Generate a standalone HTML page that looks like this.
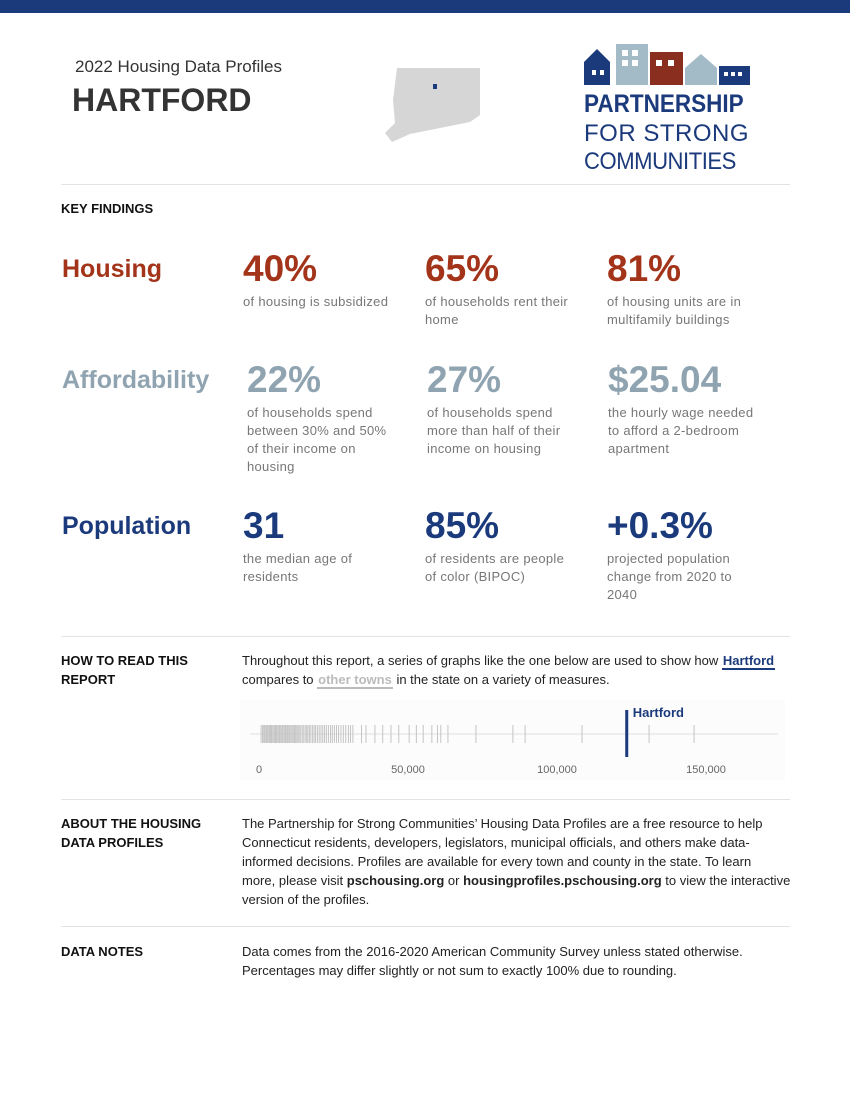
<!DOCTYPE html>
<html><head><meta charset="utf-8">
<style>
body{margin:0;width:850px;height:1100px;background:#fff;font-family:"Liberation Sans","DejaVu Sans",sans-serif;position:relative;overflow:hidden;color:#222}
.a{position:absolute}
.hr{position:absolute;left:61px;width:729px;height:1px;background:#e3e3e3}
.big{position:absolute;font-weight:bold;font-size:37px;line-height:40px}
.desc{position:absolute;font-size:13px;line-height:18px;color:#777;white-space:nowrap;letter-spacing:0.3px}
.cat{position:absolute;font-weight:bold;font-size:25px}
.red{color:#a3341a}.gb{color:#8fa4b0}.nv{color:#1b3a7c}
.lab{position:absolute;left:61px;font-weight:bold;font-size:13px;line-height:19px;color:#111}
.body{position:absolute;left:242px;font-size:13px;line-height:19px;color:#222;white-space:nowrap}
</style></head><body>
<div class="a" style="left:0;top:0;width:850px;height:13px;background:#1b3a7c"></div>
<div class="a" style="left:75px;top:57px;font-size:17px;color:#333">2022 Housing Data Profiles</div>
<div class="a" style="left:72px;top:82px;font-size:32px;font-weight:bold;color:#333">HARTFORD</div>
<svg class="a" style="left:380px;top:60px" width="110" height="85">
<polygon points="17,8 100,8 100,55 90,62 60,68 30,74 12,82 5,73 15,63 13,40" fill="#d6d6d6"/>
<rect x="53" y="24" width="4" height="5" fill="#1b3a7c"/>
</svg>
<svg class="a" style="left:584px;top:42px" width="170" height="45">
<polygon points="0,20 13,7 26,20 26,43 0,43" fill="#1b3a7c"/>
<rect x="8" y="28" width="4" height="5" fill="#fff"/><rect x="16" y="28" width="4" height="5" fill="#fff"/>
<rect x="32" y="2" width="32" height="41" fill="#a3bac7"/>
<rect x="38" y="8" width="6" height="6" fill="#fff"/><rect x="48" y="8" width="6" height="6" fill="#fff"/>
<rect x="38" y="18" width="6" height="6" fill="#fff"/><rect x="48" y="18" width="6" height="6" fill="#fff"/>
<rect x="66" y="10" width="33" height="33" fill="#8a2e20"/>
<rect x="72" y="18" width="6" height="6" fill="#fff"/><rect x="84" y="18" width="6" height="6" fill="#fff"/>
<polygon points="101,26 117,12 133,26 133,43 101,43" fill="#a3bac7"/>
<rect x="135" y="24" width="31" height="19" fill="#1b3a7c"/>
<rect x="140" y="30" width="4" height="4" fill="#fff"/><rect x="147" y="30" width="4" height="4" fill="#fff"/><rect x="154" y="30" width="4" height="4" fill="#fff"/>
</svg>
<div class="a" style="left:584px;top:90px;font-size:25px;font-weight:bold;color:#1b3a7c;transform:scaleX(0.9);transform-origin:left">PARTNERSHIP</div>
<div class="a" style="left:584px;top:120px;font-size:24px;color:#1b3a7c;letter-spacing:0.5px">FOR STRONG</div>
<div class="a" style="left:584px;top:148px;font-size:24px;color:#1b3a7c;letter-spacing:-0.5px;transform:scaleX(0.92);transform-origin:left">COMMUNITIES</div>
<div class="hr" style="top:184px"></div>
<div class="lab" style="top:199px">KEY FINDINGS</div>

<div class="cat red" style="left:62px;top:255px">Housing</div>
<div class="big red" style="left:243px;top:249px">40%</div>
<div class="desc" style="left:243px;top:293px">of housing is subsidized</div>
<div class="big red" style="left:425px;top:249px">65%</div>
<div class="desc" style="left:425px;top:293px">of households rent their<br>home</div>
<div class="big red" style="left:607px;top:249px">81%</div>
<div class="desc" style="left:607px;top:293px">of housing units are in<br>multifamily buildings</div>

<div class="cat gb" style="left:62px;top:366px">Affordability</div>
<div class="big gb" style="left:247px;top:360px">22%</div>
<div class="desc" style="left:247px;top:404px">of households spend<br>between 30% and 50%<br>of their income on<br>housing</div>
<div class="big gb" style="left:427px;top:360px">27%</div>
<div class="desc" style="left:427px;top:404px">of households spend<br>more than half of their<br>income on housing</div>
<div class="big gb" style="left:608px;top:360px">$25.04</div>
<div class="desc" style="left:608px;top:404px">the hourly wage needed<br>to afford a 2-bedroom<br>apartment</div>

<div class="cat nv" style="left:62px;top:512px">Population</div>
<div class="big nv" style="left:243px;top:506px">31</div>
<div class="desc" style="left:243px;top:550px">the median age of<br>residents</div>
<div class="big nv" style="left:425px;top:506px">85%</div>
<div class="desc" style="left:425px;top:550px">of residents are people<br>of color (BIPOC)</div>
<div class="big nv" style="left:607px;top:506px">+0.3%</div>
<div class="desc" style="left:607px;top:550px">projected population<br>change from 2020 to<br>2040</div>

<div class="hr" style="top:636px"></div>
<div class="lab" style="top:651px">HOW TO READ THIS<br>REPORT</div>
<div class="body" style="top:651px">Throughout this report, a series of graphs like the one below are used to show how <b style="color:#1b3a7c;border-bottom:2px solid #1b3a7c;padding:0 1px">Hartford</b><br>compares to <b style="color:#bbb;border-bottom:2px solid #bbb;padding:0 1px">other towns</b> in the state on a variety of measures.</div>

<svg class="a" id="strip" style="left:240px;top:700px" width="545" height="80">
<rect x="0" y="0" width="545" height="80" fill="#fcfcfc"/>
<line x1="10" y1="34" x2="538" y2="34" stroke="#e0e0e0" stroke-width="1"/>
</svg>

<div class="hr" style="top:799px"></div>
<div class="lab" style="top:814px">ABOUT THE HOUSING<br>DATA PROFILES</div>
<div class="body" style="top:814px">The Partnership for Strong Communities’ Housing Data Profiles are a free resource to help<br>Connecticut residents, developers, legislators, municipal officials, and others make data-<br>informed decisions. Profiles are available for every town and county in the state. To learn<br>more, please visit <b>pschousing.org</b> or <b>housingprofiles.pschousing.org</b> to view the interactive<br>version of the profiles.</div>
<div class="hr" style="top:926px"></div>
<div class="lab" style="top:942px">DATA NOTES</div>
<div class="body" style="top:942px">Data comes from the 2016-2020 American Community Survey unless stated otherwise.<br>Percentages may differ slightly or not sum to exactly 100% due to rounding.</div>

<script>
const townValues=[700,1200,1600,1900,2300,2600,2900,3300,3600,3900,4200,4600,5000,5300,5600,5900,6300,6700,7000,7400,7800,8100,8500,8900,9300,9600,10000,10300,10700,11100,11500,11900,12300,12700,13100,13500,14000,14500,15000,15500,16000,16400,16900,17400,18000,18500,19000,19600,20200,20800,21400,22000,22600,23300,24000,24600,25300,26000,26700,27500,28300,29100,30000,30700,31500,34400,35900,38900,41500,44300,46900,50400,52800,55100,58000,59900,61000,63400,72800,85200,89300,108400,130900,146000];
const hartfordValue=123400;
const tickValues=[0,50000,100000,150000];
const tickLabels=["0","50,000","100,000","150,000"];
const svg=document.getElementById('strip');
const NS='http://www.w3.org/2000/svg';
const x=v=>19+v*(447/150000);
townValues.forEach(v=>{
 const l=document.createElementNS(NS,'line');
 l.setAttribute('x1',x(v));l.setAttribute('x2',x(v));l.setAttribute('y1',25);l.setAttribute('y2',43);
 l.setAttribute('stroke','#c4c4c4');l.setAttribute('stroke-width',1);
 
 
 svg.appendChild(l);
});
const h=document.createElementNS(NS,'line');
h.setAttribute('x1',x(hartfordValue));h.setAttribute('x2',x(hartfordValue));h.setAttribute('y1',10);h.setAttribute('y2',57);
h.setAttribute('stroke','#1b3a7c');h.setAttribute('stroke-width',3);


svg.appendChild(h);
const ht=document.createElementNS(NS,'text');
ht.setAttribute('x',x(hartfordValue)+6);ht.setAttribute('y',17);
ht.setAttribute('font-size','13');ht.setAttribute('font-weight','bold');ht.setAttribute('fill','#1b3a7c');
ht.textContent='Hartford';


svg.appendChild(ht);
tickValues.forEach((v,i)=>{
 const t=document.createElementNS(NS,'text');
 t.setAttribute('x',x(v));t.setAttribute('y',73);t.setAttribute('text-anchor','middle');
 t.setAttribute('font-size','11');t.setAttribute('fill','#666');
 t.textContent=tickLabels[i];
 
 
 svg.appendChild(t);
});
</script>
</body></html>
